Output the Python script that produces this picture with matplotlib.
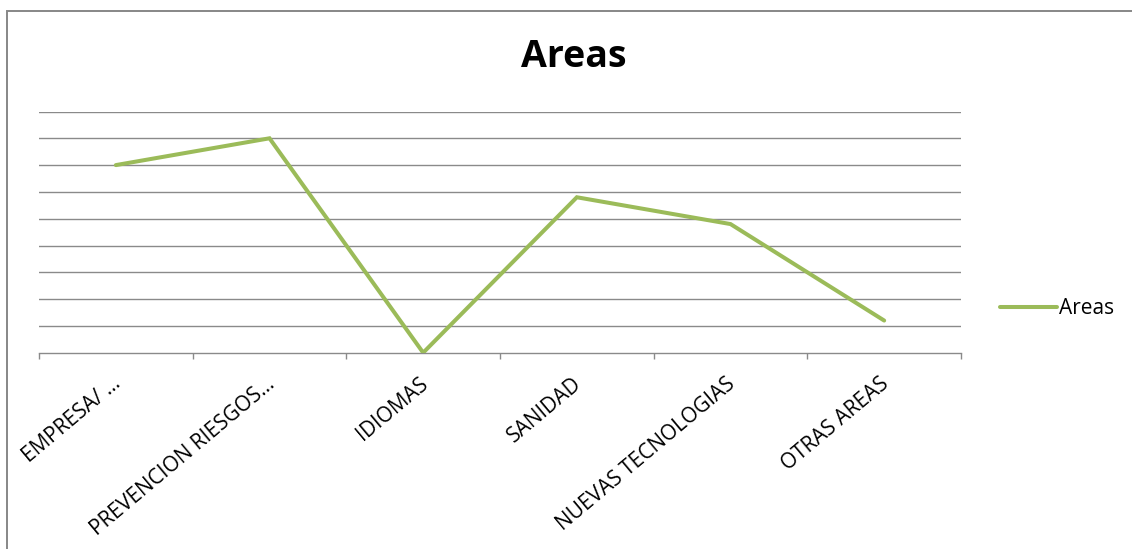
import matplotlib
matplotlib.use("Agg")
import matplotlib.pyplot as plt
import matplotlib.transforms as mtransforms
from matplotlib.patches import Rectangle
from matplotlib.lines import Line2D

categories = ["EMPRESA/ …", "PREVENCION RIESGOS…", "IDIOMAS", "SANIDAD",
              "NUEVAS TECNOLOGIAS", "OTRAS AREAS"]
values = [7.0, 8.0, 0.0, 5.8, 4.8, 1.2]
series_name = "Areas"
title = "Areas"

plt.rcParams['font.family'] = ['Open Sans', 'DejaVu Sans']

W, H = 1132, 549
fig = plt.figure(figsize=(W / 100, H / 100), dpi=100)
fig.patch.set_facecolor('white')

# chart-area border (left and top visible)
fig.add_artist(Rectangle((7 / W, -0.05), 1.2, 1.05 - 11 / H,
                         transform=fig.transFigure, fill=False,
                         edgecolor='#878787', linewidth=1.4))

x0, x1 = 39, 961
ytop, ybot = 111.5, 352.7
ax = fig.add_axes([x0 / W, (H - ybot) / H, (x1 - x0) / W, (ybot - ytop) / H])

xs = list(range(len(categories)))
ax.plot(xs, values, color='#9BBB59', linewidth=2.9, solid_capstyle='round',
        solid_joinstyle='miter', zorder=3)

ax.set_xlim(-0.5, len(categories) - 0.5)
ax.set_ylim(0, 9)
ax.set_yticks(range(1, 10))
ax.yaxis.grid(True, color='#8a8a8a', linewidth=1.0)
ax.tick_params(axis='y', left=False, labelleft=False)
for s in ['left', 'right', 'top']:
    ax.spines[s].set_visible(False)
ax.spines['bottom'].set_color('#8a8a8a')
ax.spines['bottom'].set_linewidth(1.0)

ax.set_xticks([i - 0.5 for i in range(len(categories) + 1)], minor=True)
ax.tick_params(axis='x', which='minor', direction='out', length=4,
               color='#8a8a8a', width=1.0)
ax.set_xticks(xs)
ax.tick_params(axis='x', which='major', length=0, pad=0)
ax.set_xticklabels(categories, rotation=40, ha='right', va='baseline',
                   rotation_mode='anchor', fontsize=15)
offset = mtransforms.ScaledTranslation(6 / 100, -33 / 100, fig.dpi_scale_trans)
for lbl in ax.get_xticklabels():
    lbl.set_transform(lbl.get_transform() + offset)

fig.text(574 / W, 1 - 57 / H, title, ha='center', va='center',
         fontsize=27, fontweight='bold')

# legend
fig.add_artist(Line2D([1000 / W, 1057 / W], [1 - 307 / H, 1 - 307 / H],
                      transform=fig.transFigure, color='#9BBB59',
                      linewidth=2.9, solid_capstyle='round'))
fig.text(1059 / W, 1 - 308 / H, series_name, ha='left', va='center',
         fontsize=15)

fig.savefig('out.png', dpi=100)
